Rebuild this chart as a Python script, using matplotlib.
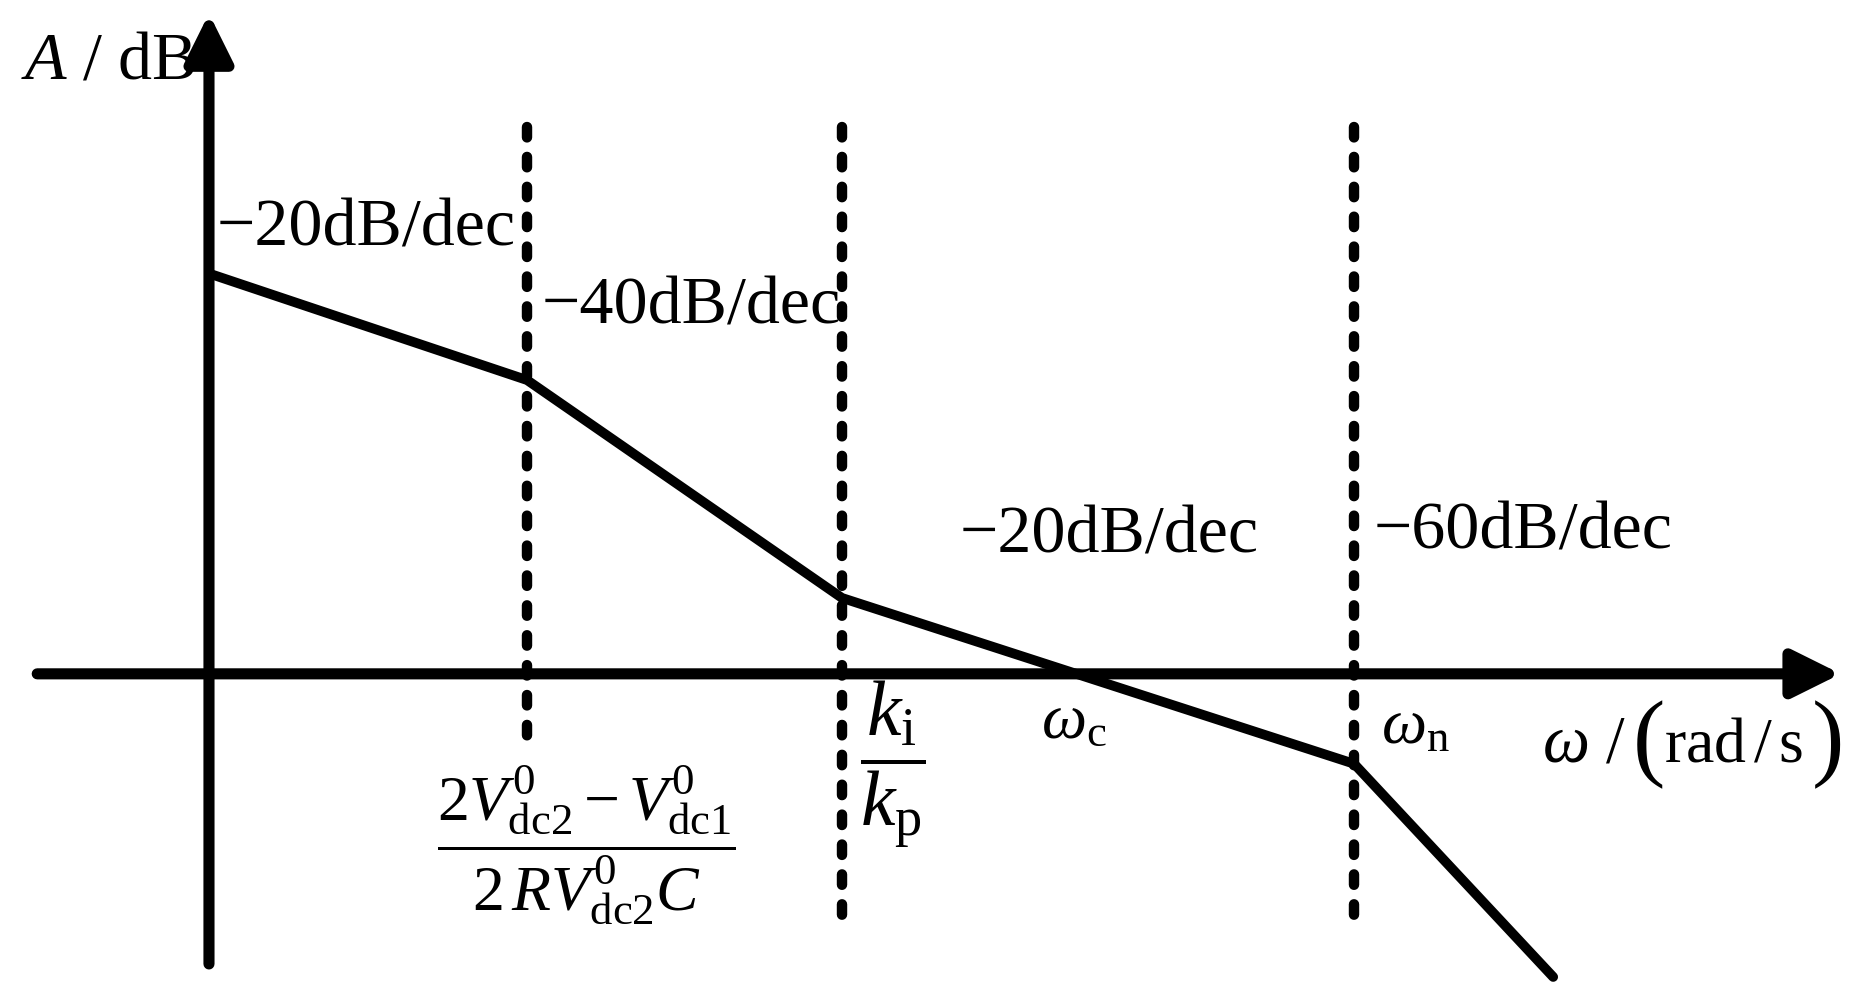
import matplotlib.pyplot as plt
import numpy as np

plt.rcParams['mathtext.fontset'] = 'custom'
plt.rcParams['mathtext.rm'] = 'Liberation Serif'
plt.rcParams['mathtext.it'] = 'Liberation Serif:italic'
plt.rcParams['mathtext.bf'] = 'Liberation Serif:bold'
plt.rcParams['font.family'] = ['Liberation Serif', 'DejaVu Serif']

# asymptotic magnitude curve (x in decades from the vertical axis, y in dB)
omega = [0.0, 1.0, 1.99, 3.6, 4.226]
gain = [77, 56.5, 14.6, -17.3, -58.3]
# corner frequencies where the dotted guides sit
corners = [1.0, 1.99, 3.6]
guide_bottom = [-13.6, -48.5, -48.5]
# slope labels
slope_text = ["\u221220dB/dec", "\u221240dB/dec", "\u221220dB/dec", "\u221260dB/dec"]
slope_x = [0.025, 1.045, 2.36, 3.66]
slope_y = [85.5, 70.6, 26.5, 27.3]

fig = plt.figure(figsize=(18.63, 9.91), dpi=100)
ax = fig.add_axes([0, 0, 1, 1])
ax.set_xlim(-0.657, 5.2)
ax.set_ylim(-61, 129.6)
ax.axis('off')

# axes with arrows
arr = dict(arrowstyle='-|>,head_length=1.45,head_width=0.72', lw=8, color='k',
           mutation_scale=20, shrinkA=0, shrinkB=0)
ax.annotate('', xy=(5.13, 0), xytext=(-0.54, 0), arrowprops=arr)
ax.annotate('', xy=(0, 127), xytext=(0, -55.8), arrowprops=arr)

# dotted guides
for c, b in zip(corners, guide_bottom):
    ax.plot([c, c], [105.2, b], color='k', lw=7.5,
            linestyle=(0, (1.0, 1.87)), dash_capstyle='round')

ax.plot(omega, gain, color='k', lw=7, solid_joinstyle='miter',
        solid_capstyle='round')

fs = 49
for t, x, y in zip(slope_text, slope_x, slope_y):
    ax.text(x, y, t, fontsize=fs, ha='left', va='center')

ax.text(-0.59, 117.6, r'$A\ /\ \mathrm{dB}$', fontsize=fs, ha='left', va='center')
ax.text(1.185, -33,
        r'$\dfrac{2V_{\mathrm{dc}2}^{0}-V_{\mathrm{dc}1}^{0}}{2\,RV_{\mathrm{dc}2}^{0}C}$',
        fontsize=46, ha='center', va='center')
ax.text(2.15, -17.5, r'$\dfrac{k_{\mathrm{i}}}{k_{\mathrm{p}}}$',
        fontsize=56, ha='center', va='center')
ax.text(2.72, -9.5, r'$\omega_{\mathrm{c}}$', fontsize=46, ha='center', va='center')
ax.text(3.685, -10.5, r'$\omega_{\mathrm{n}}$', fontsize=46, ha='left', va='center')

# x-axis label with tall parentheses
ax.text(4.19, -16.9, r'$\omega$ /', fontsize=48, ha='left', va='baseline')
ax.text(4.528, -13.6, '(', fontsize=70, ha='center', va='center')
ax.text(4.575, -16.9, r'$\mathrm{rad\,/\,s}$', fontsize=46, ha='left', va='baseline')
ax.text(5.09, -13.6, ')', fontsize=70, ha='center', va='center')

fig.savefig('out.png', dpi=100)
